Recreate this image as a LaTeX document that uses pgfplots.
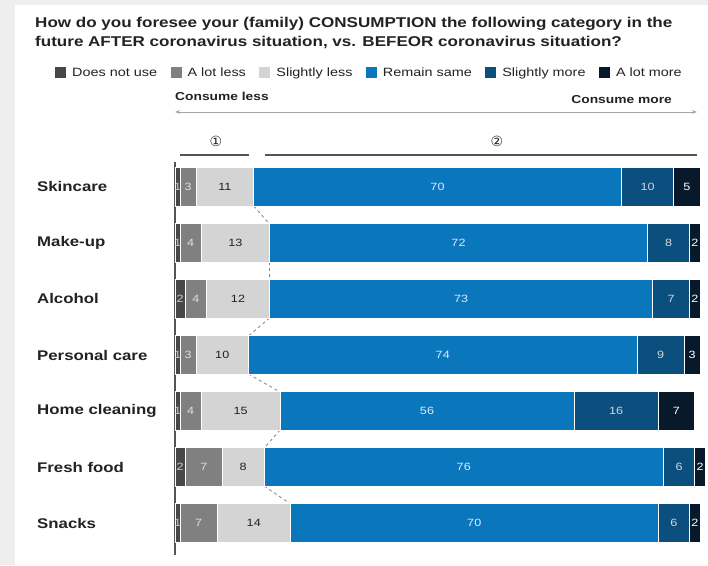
\documentclass[border=0pt]{standalone}
\usepackage{fontspec}
\setmainfont{Liberation Sans}[FakeStretch=1.2]
\newfontfamily\dejavu{DejaVu Sans}
\usepackage{pgfplots}
\pgfplotsset{compat=1.18}
\usetikzlibrary{arrows.meta}
\definecolor{bgband}{HTML}{EEEEEE}
\definecolor{cdnu}{HTML}{474747}
\definecolor{call}{HTML}{808080}
\definecolor{csl}{HTML}{D4D4D4}
\definecolor{crs}{HTML}{0A77BD}
\definecolor{csm}{HTML}{0B4F7F}
\definecolor{calm}{HTML}{08192B}
\definecolor{axgray}{HTML}{555555}
\definecolor{txt}{HTML}{222222}
\begin{document}
\begin{tikzpicture}[x=1pt,y=1pt]
\fill[bgband] (0,0) rectangle (708,565);
\fill[white] (15,0) rectangle (708,560);
\node[anchor=base west, inner sep=0, text=txt, font=\bfseries\fontsize{14.2}{16}\selectfont] at (35,537) {How do you foresee your (family) CONSUMPTION the following category in the};
\node[anchor=base west, inner sep=0, text=txt, font=\bfseries\fontsize{14.2}{16}\selectfont] at (35,518) {future AFTER coronavirus situation, vs. BEFEOR coronavirus situation?};
\node[anchor=base west, inner sep=0, text=txt, font=\bfseries\fontsize{11.5}{13}\selectfont] at (175,464) {Consume less};
\node[anchor=base east, inner sep=0, text=txt, font=\bfseries\fontsize{11.5}{13}\selectfont] at (672,461) {Consume more};
\draw[gray!70, line width=0.8pt, {Stealth[length=5pt]}-{Stealth[length=5pt]}] (175,453) -- (697,453);
\node[font=\dejavu\fontsize{14}{15}\selectfont, text=txt] at (216,424) {①};
\node[font=\dejavu\fontsize{14}{15}\selectfont, text=txt] at (497,424) {②};
\draw[axgray, line width=1.5pt] (180,410) -- (249,410);
\draw[axgray, line width=1.5pt] (265,410) -- (697,410);
\begin{axis}[
  at={(175pt,10pt)}, anchor=south west,
  scale only axis, width=525pt, height=393pt,
  xmin=0, xmax=100, ymin=-0.446, ymax=6.571,
  y dir=reverse, hide axis, clip=false,
  xbar stacked, bar width=0.68,
  point meta=explicit symbolic,
  nodes near coords={\pgfplotspointmeta},
  every node near coord/.append style={font=\fontsize{10.5}{12}\selectfont, inner sep=0pt},
  legend columns=6,
  legend style={at={(-0.2286,1.245)}, anchor=north west, draw=none, fill=none,
    font=\fontsize{12}{14}\selectfont, text=txt, inner sep=0pt,
    /tikz/every even column/.append style={column sep=11.5pt},
    /tikz/every odd column/.append style={column sep=4pt}},
  legend cell align=left,
  legend image code/.code={\fill[#1, draw=none] (0pt,-5pt) rectangle (11pt,6pt);},
]
\addplot[fill=cdnu, draw=white, line width=1pt, nodes near coords style={text=gray!40}] coordinates {(1,0)[1] (1,1)[1] (2,2)[2] (1,3)[1] (1,4)[1] (2,5)[2] (1,6)[1]};
\addplot[fill=call, draw=white, line width=1pt, nodes near coords style={text=gray!25}] coordinates {(3,0)[3] (4,1)[4] (4,2)[4] (3,3)[3] (4,4)[4] (7,5)[7] (7,6)[7]};
\addplot[fill=csl, draw=white, line width=1pt, nodes near coords style={text=txt}] coordinates {(11,0)[11] (13,1)[13] (12,2)[12] (10,3)[10] (15,4)[15] (8,5)[8] (14,6)[14]};
\addplot[fill=crs, draw=white, line width=1pt, nodes near coords style={text=blue!10}] coordinates {(70,0)[70] (72,1)[72] (73,2)[73] (74,3)[74] (56,4)[56] (76,5)[76] (70,6)[70]};
\addplot[fill=csm, draw=white, line width=1pt, nodes near coords style={text=blue!10!gray!30}] coordinates {(10,0)[10] (8,1)[8] (7,2)[7] (9,3)[9] (16,4)[16] (6,5)[6] (6,6)[6]};
\addplot[fill=calm, draw=white, line width=1pt, nodes near coords style={text=white}] coordinates {(5,0)[5] (2,1)[2] (2,2)[2] (3,3)[3] (7,4)[7] (2,5)[2] (2,6)[2]};
\legend{Does not use, A lot less, Slightly less, Remain same, Slightly more, A lot more}
\draw[dashed, gray, line width=0.8pt] (axis cs:15,0.34) -- (axis cs:18,0.66);
\draw[dashed, gray, line width=0.8pt] (axis cs:18,1.34) -- (axis cs:18,1.66);
\draw[dashed, gray, line width=0.8pt] (axis cs:18,2.34) -- (axis cs:14,2.66);
\draw[dashed, gray, line width=0.8pt] (axis cs:14,3.34) -- (axis cs:20,3.66);
\draw[dashed, gray, line width=0.8pt] (axis cs:20,4.34) -- (axis cs:17,4.66);
\draw[dashed, gray, line width=0.8pt] (axis cs:17,5.34) -- (axis cs:22,5.66);
\draw[axgray, line width=1.5pt] (axis cs:0,-0.446) -- (axis cs:0,6.571);
\foreach \lab [count=\i from 0] in {Skincare, Make-up, Alcohol, Personal care, Home cleaning, Fresh food, Snacks}{
  \edef\tmp{\noexpand\node[anchor=west, inner sep=0pt, xshift=-138pt, text=txt, font=\noexpand\bfseries\noexpand\fontsize{14}{16}\noexpand\selectfont] at (axis cs:0,\i) {\lab};}
  \tmp
}
\end{axis}
\end{tikzpicture}
\end{document}
